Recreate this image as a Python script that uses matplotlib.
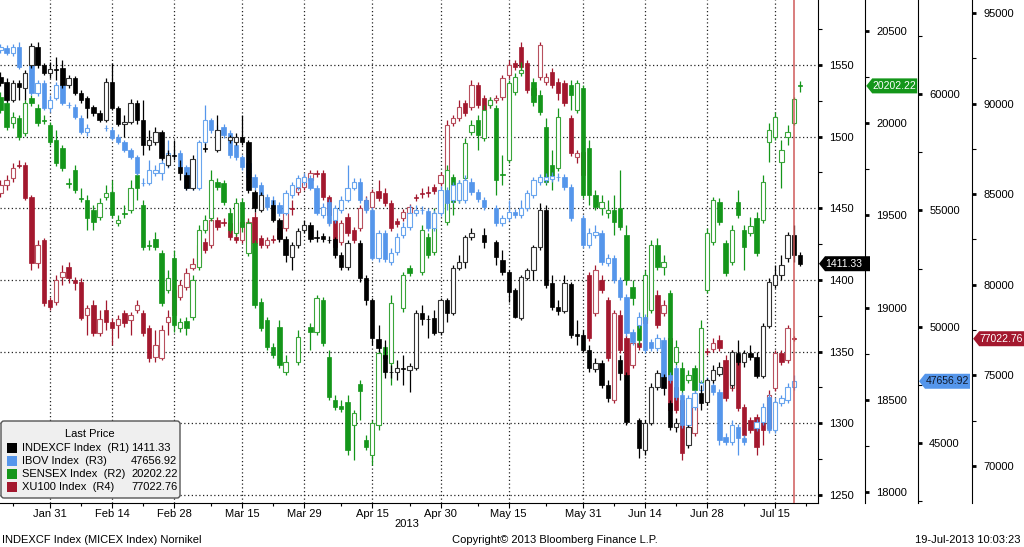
import numpy as np
import pandas as pd
import matplotlib
matplotlib.use("Agg")
import matplotlib.pyplot as plt
from matplotlib.patches import FancyBboxPatch, Rectangle, Polygon
from matplotlib.ticker import MultipleLocator, FuncFormatter
from matplotlib.transforms import IdentityTransform

plt.rcParams['font.family'] = ['Liberation Sans', 'DejaVu Sans']
plt.rcParams['font.size'] = 8

# trading-day axis (every weekday)
days = pd.bdate_range("2013-01-21", "2013-07-24")
major_dates = ["2013-01-31", "2013-02-14", "2013-02-28", "2013-03-15", "2013-03-29", "2013-04-15",
               "2013-04-30", "2013-05-15", "2013-05-31", "2013-06-14", "2013-06-28", "2013-07-15"]
minor_dates = ["2013-01-23", "2013-02-07", "2013-02-21", "2013-03-08", "2013-03-22", "2013-04-08",
               "2013-04-23", "2013-05-08", "2013-05-23", "2013-06-07", "2013-06-21", "2013-07-08",
               "2013-07-22"]
marker_day = "2013-07-18"

# (open, high, low, close) per weekday from 2013-01-21, None = no session
micex = [
    (1541.7, 1545.1, 1535.4, 1537.5), (1538.2, 1541.0, 1524.2, 1525.6), (1525.6, 1539.6, 1524.2, 1537.5),
    (1537.5, 1539.6, 1525.6, 1534.7), (1534.0, 1546.5, 1525.6, 1544.4),
    (1550.0, 1565.4, 1547.9, 1563.3), (1562.6, 1566.1, 1547.9, 1550.0), (1550.0, 1551.4, 1543.1, 1544.4),
    (1544.4, 1552.1, 1541.0, 1547.2), (1547.2, 1555.6, 1539.6, 1546.5),
    (1547.9, 1553.5, 1534.0, 1536.1), (1536.1, 1543.1, 1534.0, 1541.0), (1541.0, 1542.4, 1529.1, 1530.5),
    (1530.5, 1532.6, 1523.5, 1525.6), (1527.0, 1528.4, 1513.0, 1520.0),
    (1520.7, 1522.1, 1514.4, 1516.5), (1516.5, 1518.6, 1510.2, 1511.6), (1511.6, 1541.0, 1510.2, 1538.2),
    (1538.2, 1551.4, 1518.6, 1520.0), (1520.0, 1521.4, 1507.5, 1508.8),
    (1508.8, 1515.1, 1499.8, 1510.2), (1510.2, 1526.3, 1508.8, 1523.5), (1523.5, 1525.6, 1508.8, 1511.6),
    (1511.6, 1525.6, 1487.2, 1494.2), (1494.2, 1504.7, 1490.7, 1497.7),
    (1496.3, 1506.8, 1494.2, 1503.3), (1503.3, 1504.7, 1483.7, 1485.1), (1480.2, 1490.7, 1478.8, 1487.2),
    (1487.2, 1497.7, 1483.7, 1486.5), (1478.8, 1483.7, 1469.8, 1474.6),
    (1473.2, 1475.3, 1462.8, 1464.2), (1464.2, 1487.2, 1462.8, 1484.4), None,
    (1492.1, 1495.6, 1489.3, 1491.4), None,
    (1490.7, 1515.1, 1489.3, 1504.7), None, (1497.7, 1501.2, 1495.6, 1499.8),
    (1496.3, 1502.6, 1494.2, 1499.8), (1499.8, 1515.1, 1494.2, 1496.3),
    (1496.3, 1497.7, 1460.7, 1462.8), (1461.4, 1462.8, 1447.4, 1450.2), (1448.8, 1461.4, 1447.4, 1459.3),
    None, (1452.3, 1455.8, 1440.4, 1441.8),
    (1441.8, 1443.2, 1426.5, 1428.6), (1428.6, 1430.7, 1412.5, 1417.4), (1416.0, 1426.5, 1406.9, 1424.4),
    (1424.4, 1436.3, 1422.3, 1434.2), (1434.9, 1441.8, 1432.8, 1438.4),
    (1438.4, 1440.4, 1426.5, 1428.6), (1430.0, 1434.9, 1426.5, 1429.3), (1430.7, 1432.8, 1426.5, 1428.6),
    (1427.9, 1430.7, 1425.8, 1427.6), (1428.6, 1430.0, 1415.3, 1417.4),
    (1417.4, 1419.5, 1406.9, 1409.0), (1409.0, 1427.9, 1406.9, 1425.8), None,
    (1425.8, 1427.9, 1398.6, 1401.4), (1401.4, 1403.5, 1382.5, 1386.0),
    (1386.0, 1387.4, 1354.6, 1359.5), (1358.8, 1368.6, 1349.7, 1352.5), (1347.6, 1358.1, 1331.6, 1335.7),
    (1335.7, 1340.6, 1331.6, 1335.4), (1335.7, 1344.1, 1330.2, 1338.5),
    (1338.5, 1347.6, 1326.7, 1338.0), (1337.1, 1342.0, 1321.8, 1339.9), (1338.5, 1379.0, 1337.1, 1376.9),
    (1376.9, 1382.5, 1368.6, 1372.7), (1372.7, 1375.5, 1359.5, 1372.4),
    (1373.4, 1379.0, 1361.6, 1363.0), (1363.7, 1387.4, 1361.6, 1386.0), (1386.0, 1387.4, 1370.6, 1376.9),
    (1376.9, 1410.4, 1375.5, 1408.3), (1408.3, 1417.4, 1406.9, 1412.5),
    (1412.5, 1431.4, 1408.3, 1430.0), (1430.0, 1436.3, 1427.9, 1432.8), None,
    (1431.4, 1436.3, 1422.3, 1426.5), None,
    (1426.5, 1427.9, 1410.4, 1416.0), (1413.9, 1420.9, 1403.5, 1405.5), (1405.5, 1406.9, 1384.6, 1391.6),
    (1393.0, 1394.4, 1373.4, 1374.1), (1373.4, 1403.5, 1372.0, 1402.1),
    (1401.4, 1408.3, 1400.0, 1406.9), (1406.9, 1424.4, 1400.0, 1423.0), (1423.0, 1453.7, 1420.9, 1448.8),
    (1448.8, 1452.3, 1394.4, 1396.5), (1397.9, 1403.5, 1379.0, 1381.1),
    (1381.1, 1386.0, 1375.5, 1378.3), (1378.3, 1403.5, 1376.9, 1397.9), (1397.2, 1398.6, 1359.5, 1361.6),
    (1362.3, 1372.0, 1354.6, 1360.9), (1361.6, 1365.1, 1349.7, 1351.1),
    (1351.1, 1354.6, 1335.7, 1338.5), (1337.8, 1345.5, 1335.7, 1342.0), (1342.0, 1344.1, 1324.6, 1326.7),
    (1326.7, 1330.2, 1314.8, 1317.6), None,
    (1344.1, 1347.6, 1330.2, 1335.0), (1333.6, 1335.7, 1298.7, 1300.8), None,
    (1302.2, 1303.6, 1275.7, 1282.7), (1281.3, 1302.2, 1277.8, 1300.1),
    (1300.1, 1328.1, 1298.7, 1325.3), (1325.3, 1337.1, 1323.2, 1335.0), (1332.3, 1334.3, 1319.7, 1324.6),
    (1314.1, 1316.2, 1295.3, 1297.4), (1297.4, 1303.6, 1293.9, 1300.1),
    None, (1284.8, 1298.7, 1282.7, 1297.4), None,
    (1321.1, 1326.7, 1309.2, 1314.1), (1314.8, 1331.6, 1312.7, 1330.2),
    (1330.2, 1340.6, 1328.1, 1337.1), (1334.3, 1342.7, 1332.9, 1339.2), None,
    (1326.7, 1351.1, 1324.6, 1349.7), (1349.0, 1358.1, 1340.6, 1342.7),
    (1342.7, 1351.1, 1339.2, 1349.0), (1349.0, 1354.6, 1344.1, 1346.2), (1346.2, 1349.7, 1331.6, 1332.9),
    (1332.9, 1369.9, 1331.6, 1367.9), (1367.9, 1401.4, 1366.5, 1398.6),
    (1396.5, 1410.4, 1394.4, 1403.5), (1403.5, 1417.4, 1400.0, 1410.4), (1415.3, 1433.5, 1412.5, 1431.4),
    (1431.4, 1438.4, 1412.5, 1417.4), (1417.4, 1419.5, 1409.7, 1411.33),
]

ibov = [
    (61891, 62149, 61763, 62020), (61977, 62106, 61677, 61763), (61763, 62149, 61634, 62020),
    (62020, 62235, 61075, 61161), None,
    (61247, 61376, 59958, 60044), (60044, 60602, 59915, 60473), (60473, 60602, 59313, 59399),
    (59399, 59958, 59227, 59743), (59829, 60516, 59743, 60388),
    (60388, 60516, 59528, 59614), (59528, 59657, 59399, 59510), (59442, 59571, 58927, 59013),
    (58970, 59098, 58282, 58368), (58368, 58712, 58196, 58540),
    None, None, (58540, 58669, 58411, 58520),
    (58454, 58583, 58024, 58110), (58153, 58282, 57852, 57938),
    (57938, 58024, 57509, 57594), (57594, 57680, 57208, 57294), (57294, 57380, 56520, 56606),
    (56176, 56391, 56048, 56155), (56176, 57165, 56091, 56735),
    (56606, 56950, 56477, 56735), (56606, 57251, 56305, 57036), (56950, 58024, 56821, 57466),
    (57380, 57594, 57251, 57359), (57466, 57594, 56735, 56864),
    (56864, 56950, 55876, 55962), (56520, 56649, 55876, 55962), (55962, 58024, 55876, 57938),
    (57938, 59528, 57809, 58884), (58884, 58970, 58325, 58454),
    (58454, 58669, 58110, 58239), (58583, 58712, 58110, 58239), (58325, 58454, 57251, 57380),
    (57809, 57938, 57165, 57294), (57294, 57380, 56735, 56864),
    (57036, 57165, 56305, 56434), (56434, 56563, 55876, 56005), (56091, 56219, 55446, 55575),
    (55575, 55704, 55016, 55145), (55446, 55618, 54930, 55102),
    (55231, 55360, 54758, 54887), (54887, 55876, 54801, 55747), (55661, 56219, 55532, 56091),
    (56005, 56520, 55876, 56391), (56219, 56606, 56091, 56434),
    (56391, 56520, 55876, 55962), (55962, 56091, 54801, 54887), (54801, 55317, 54673, 55145),
    (55360, 55489, 54329, 54458), (54587, 55231, 54458, 55102),
    (55016, 55618, 54887, 55446), (55446, 56950, 55360, 55962), (55962, 56391, 55876, 56219),
    (56219, 56391, 55317, 55446), (55446, 55575, 54887, 55016),
    (55016, 55145, 52868, 52954), (52954, 54157, 52782, 54028), (54028, 54157, 52782, 52911),
    (52782, 53383, 52653, 53169), (53212, 54028, 53083, 53856),
    (53942, 54501, 53813, 54286), (54286, 55231, 54157, 54887), (54887, 55231, 54758, 55016),
    (55016, 55188, 54844, 54995), (54973, 55102, 54114, 54243),
    (54243, 55016, 54114, 54887), (54887, 56048, 54758, 55876), (55876, 56005, 55016, 55317),
    (55446, 56219, 55317, 56091), (55446, 56305, 55317, 56176),
    (55446, 56520, 55317, 56305), (56219, 56391, 55661, 55790), (55790, 55919, 55360, 55489),
    (55446, 55575, 55016, 55145), None,
    (55102, 55231, 54329, 54458), (54458, 54801, 54329, 54673), (54673, 55446, 54544, 54930),
    (54930, 55059, 54673, 54801), (54801, 55446, 54673, 55102),
    (55102, 55876, 54973, 55747), (55661, 56434, 55532, 56305), (56219, 56563, 56091, 56434),
    (56305, 56606, 56176, 56434), (56348, 56649, 56219, 56477),
    (56434, 56606, 56262, 56413), (56434, 56563, 55876, 56005), (56005, 56134, 54544, 54673),
    None, (54673, 54801, 53383, 53512),
    (53512, 54243, 53383, 54028), (53942, 54372, 53813, 54071), (54028, 54157, 52653, 52782),
    (52739, 53126, 52610, 52954), (52954, 53083, 51879, 52008),
    (52008, 52137, 51149, 51278), (51278, 51407, 49602, 49731), (49774, 49903, 49215, 49344),
    (50075, 50633, 49946, 50419), (50419, 50547, 48872, 49000),
    (49344, 49473, 48958, 49086), (49086, 49688, 48958, 49516), (49430, 49559, 47711, 47840),
    (47926, 48055, 47582, 47711), (48227, 48356, 46852, 46981),
    (47067, 47196, 45649, 45778), (45778, 47067, 45649, 46938), (46551, 47282, 46422, 47153),
    (47282, 47711, 47153, 47582), (47067, 47840, 46938, 47711),
    (47497, 47625, 47067, 47196), (47196, 47325, 44918, 45133), (45262, 45434, 44918, 45047),
    (45047, 45993, 44918, 45778), (45692, 45821, 44489, 45219),
    (45219, 45348, 44918, 45047), None, (45649, 46036, 45520, 45907),
    (45907, 46723, 45778, 46551), (46981, 47110, 45434, 45563),
    (45563, 46938, 45434, 46766), (46723, 47067, 46594, 46938), (46852, 47582, 46723, 47411),
    (47411, 47926, 47282, 47656.92), None,
]

sensex = [
    (20142, 20169, 20055, 20071), (20109, 20126, 19963, 19979), (20001, 20061, 19974, 20033),
    (20028, 20044, 19909, 19925), (19947, 20126, 19930, 20109),
    (20137, 20153, 20093, 20109), (20082, 20104, 19985, 20001), (20017, 20044, 19996, 20012),
    (19990, 20006, 19882, 19898), (19909, 19963, 19768, 19784),
    (19865, 19882, 19741, 19757), (19676, 19703, 19649, 19670), (19746, 19773, 19621, 19638),
    (19594, 19649, 19573, 19589), (19583, 19611, 19421, 19486),
    (19529, 19556, 19421, 19464), (19491, 19594, 19475, 19567), (19600, 19665, 19583, 19621),
    (19627, 19692, 19486, 19502), (19459, 19502, 19442, 19475),
    (19513, 19556, 19486, 19507), (19529, 19692, 19513, 19649), (19719, 19746, 19583, 19649),
    (19556, 19583, 19312, 19329), (19339, 19366, 19312, 19334),
    (19372, 19410, 19312, 19329), (19296, 19312, 19009, 19025), (19095, 19204, 19079, 19160),
    (19269, 19312, 18868, 18906), (18889, 18944, 18868, 18922),
    (18927, 18949, 18851, 18889), (18949, 19177, 18933, 19150), (19220, 19448, 19204, 19421),
    (19421, 19502, 19404, 19475), (19486, 19746, 19470, 19692),
    (19681, 19703, 19638, 19654), (19676, 19692, 19556, 19573), (19513, 19540, 19404, 19421),
    (19404, 19594, 19388, 19567), (19573, 19594, 19410, 19437),
    (19296, 19475, 19280, 19459), (19350, 19366, 18998, 19014), (19030, 19052, 18873, 18889),
    (18933, 18949, 18770, 18786), (18786, 18808, 18727, 18743),
    (18895, 18933, 18672, 18689), (18651, 18743, 18634, 18705), None,
    (18705, 18878, 18689, 18840), None,
    (18895, 18916, 18770, 18868), (18868, 19068, 18851, 19052), (19041, 19057, 18792, 18808),
    (18732, 18770, 18499, 18515), (18499, 18526, 18445, 18461),
    (18466, 18499, 18434, 18450), (18488, 18526, 18201, 18228), (18363, 18445, 18173, 18428),
    (18586, 18607, 18390, 18548), (18282, 18309, 18228, 18244),
    (18201, 18390, 18146, 18374), (18363, 18770, 18336, 18754), (18786, 18797, 18634, 18727),
    (18699, 19068, 18580, 19025), None,
    (18998, 19193, 18976, 19177), (19215, 19231, 19171, 19188), None,
    (19193, 19448, 19177, 19421), (19383, 19404, 19269, 19285),
    (19301, 19540, 19285, 19513), None, (19464, 19773, 19448, 19746),
    (19708, 19724, 19502, 19573), (19583, 19692, 19567, 19676),
    (19703, 19920, 19686, 19893), (19952, 20017, 19936, 19990), (20017, 20044, 19855, 19936),
    (19920, 20099, 19903, 20071), (20099, 20142, 20082, 20126),
    (20082, 20099, 19611, 19692), (19724, 19827, 19665, 19719), (19800, 20234, 19784, 20218),
    (20169, 20272, 20153, 20250), (20272, 20332, 20256, 20288),
    None, (20223, 20245, 20093, 20115), (20153, 20180, 20044, 20061),
    (19979, 20028, 19665, 19681), (19773, 19855, 19638, 19703),
    (19757, 20082, 19741, 20033), None, (20207, 20234, 20071, 20153),
    (20071, 20234, 20055, 20218), (20191, 20207, 19594, 19611),
    (19865, 19909, 19556, 19611), (19611, 19638, 19529, 19545), (19540, 19611, 19502, 19573),
    (19513, 19583, 19486, 19529), (19529, 19611, 19394, 19464),
    (19540, 19746, 19421, 19437), (19394, 19448, 19122, 19150), (19112, 19150, 19014, 19052),
    (18906, 18944, 18797, 18824), (18933, 19204, 18916, 19177),
    (18987, 19366, 18971, 19339), (19339, 19377, 19204, 19220), (19220, 19285, 19177, 19247),
    (19079, 19095, 18618, 18634), (18705, 18824, 18689, 18786),
    (18672, 18705, 18526, 18553), (18607, 18662, 18591, 18634), (18672, 18689, 18542, 18553),
    (18596, 18933, 18580, 18889), (19095, 19432, 19079, 19404),
    (19356, 19600, 19339, 19583), (19573, 19594, 19448, 19464), (19350, 19366, 19171, 19188),
    (19247, 19448, 19231, 19421), (19573, 19638, 19486, 19502),
    (19421, 19448, 19204, 19329), (19404, 19491, 19388, 19442), (19486, 19518, 19280, 19296),
    (19475, 19719, 19459, 19681), (19898, 20001, 19789, 19963),
    (19925, 20061, 19909, 20033), (19789, 19909, 19649, 19855), (19925, 19990, 19882, 19952),
    (20001, 20142, 19990, 20131), (20207, 20229, 20169, 20202.22),
]

xu100 = [
    (85065, 85783, 84845, 85507), (85507, 86059, 85231, 85783), (85893, 86721, 85672, 86445),
    (86611, 86887, 86445, 86556), (86611, 86776, 84679, 84789),
    (84845, 84955, 80816, 81202), (81202, 82471, 80926, 82195), (82471, 82582, 78829, 78994),
    (79160, 79326, 78608, 78774), (79050, 80540, 78884, 80264),
    (80430, 81092, 79988, 80705), (80981, 81257, 80098, 80374), (80264, 80430, 79712, 80098),
    (80153, 80374, 78056, 78167), (78332, 78884, 77228, 78719),
    (78884, 79160, 77173, 77339), (77339, 78608, 77173, 78111), (78608, 79160, 77504, 77946),
    (77946, 78167, 76676, 77615), (77780, 78332, 77063, 78111),
    (78442, 78608, 77670, 77890), (78056, 78497, 77228, 78332), (78608, 79160, 78442, 78884),
    (78442, 78608, 77173, 77339), (77615, 77780, 75738, 75959),
    (76014, 77504, 75738, 76676), (75959, 77780, 75849, 77504), (77946, 78608, 77228, 78222),
    (78332, 79877, 78167, 79712), (79326, 80264, 79160, 79988),
    (79877, 80926, 79712, 80650), (80926, 81478, 80816, 81147), (81202, 82361, 81037, 82195),
    (82361, 82582, 81754, 81920), (82195, 83796, 82030, 83575),
    (83575, 83741, 83023, 83189), (83465, 83686, 83244, 83410), (83410, 83575, 82471, 82637),
    (82637, 82803, 82306, 82471), (82471, 83686, 82306, 83465),
    (82361, 83686, 82195, 83465), (83741, 84017, 82140, 82306), (82582, 82747, 82030, 82195),
    (82195, 82637, 82030, 82471), (82527, 82747, 82306, 82471),
    (83134, 83299, 82416, 82582), (83134, 84679, 82968, 84017), (84238, 84679, 83851, 84182),
    (85120, 85507, 84955, 85341), (85396, 86114, 85231, 85893),
    (85783, 86335, 85617, 86169), (86169, 86335, 85948, 86114), (86169, 86335, 84679, 84845),
    (84845, 84955, 83299, 83851), (83575, 83741, 81920, 82085),
    (82361, 83575, 82195, 83410), (83741, 83962, 82692, 82858), (83023, 83189, 82306, 82471),
    (83134, 84403, 82968, 84238), (84238, 84900, 84072, 84679),
    (84293, 85286, 84127, 85120), (85176, 85783, 84624, 84789), (85065, 85341, 84348, 84513),
    (84513, 84679, 82968, 83134), (83520, 83686, 83189, 83355),
    (83686, 84182, 83520, 84017), (83962, 84458, 83796, 84293), (84845, 85010, 84624, 84789),
    (85065, 85341, 84789, 85010), (85120, 85452, 84845, 85065),
    (85396, 85562, 85010, 85176), (85617, 86224, 85452, 86059), (86224, 89094, 86059, 88818),
    (88929, 89370, 88763, 89205), (89205, 90198, 89039, 89812),
    (90032, 90198, 89315, 89481), (89812, 91302, 89646, 91026), (91026, 91191, 89757, 89922),
    (90308, 90474, 89481, 89646), (89922, 90364, 89757, 90198),
    (90198, 90474, 90032, 90308), (90364, 91578, 90198, 91412), (91578, 92406, 91412, 92130),
    (92240, 92406, 91854, 92019), (93123, 93399, 91854, 92019),
    (92240, 92406, 90584, 90750), (90860, 91026, 90308, 90474), (91467, 93399, 91302, 93233),
    (91191, 91688, 91026, 91467), (91743, 91964, 90860, 91026),
    (91191, 91412, 90198, 90584), (91136, 91302, 89867, 90032), (89205, 89370, 87107, 87273),
    (87052, 87439, 86721, 87273), (87328, 87549, 85893, 86059),
    (80540, 80705, 76897, 77063), (78442, 81092, 78277, 80816), (80264, 80540, 79546, 79712),
    (79160, 79326, 75793, 75959), (73641, 78608, 73475, 78442),
    (78332, 78608, 76235, 76401), (77063, 77228, 74745, 75021), (75573, 76952, 75407, 76787),
    (76787, 76952, 76401, 76566), (77890, 78442, 77725, 78222),
    (78719, 79436, 78553, 79160), (79436, 79712, 77615, 77780), (78442, 79160, 78277, 78884),
    (77063, 77228, 72923, 73089), (74359, 74579, 72923, 73089),
    (73641, 73807, 70329, 70716), (72150, 72371, 71102, 71268), (71819, 74083, 71654, 73917),
    (74634, 76511, 74469, 76290), (76345, 76511, 76124, 76290),
    (76456, 77063, 76290, 76787), (76952, 77228, 76345, 76511), (75849, 76124, 73586, 73751),
    (74303, 76401, 74138, 76235), (76124, 76290, 73034, 73199),
    (73254, 73420, 71544, 71709), (72537, 72702, 71819, 71985), (72702, 72868, 70605, 71047),
    (72813, 72979, 71158, 71985), (72095, 74193, 71930, 73917),
    (74303, 76401, 74138, 76235), (76235, 76401, 75573, 75738), (75849, 77780, 75683, 77615),
    (77035, 77173, 76897, 77022.76), None,
]

BLACK, BLUE, GREEN, RED = "#000000", "#5596eb", "#14961a", "#a3182e"
W, H = 1024, 547


def draw_candles(ax, rows, color, hollow_edge):
    idx = np.array([i for i, r in enumerate(rows) if r is not None])
    o, h, l, c = (np.array([rows[i][k] for i in idx], dtype=float) for k in range(4))
    ax.vlines(idx, l, h, color=color, lw=0.9, zorder=2)
    up = c >= o
    ax.bar(idx[up], c[up] - o[up], bottom=o[up], width=0.7, facecolor="white",
           edgecolor=hollow_edge, lw=0.8, zorder=3)
    ax.bar(idx[~up], o[~up] - c[~up], bottom=c[~up], width=0.7, facecolor=color,
           edgecolor=color, lw=0.5, zorder=3)


def side_axis(offset_pt, major, minor):
    ax = base.twinx()
    ax.spines["right"].set_position(("outward", offset_pt))
    for s in ("top", "left", "bottom"):
        ax.spines[s].set_visible(False)
    ax.yaxis.set_major_locator(MultipleLocator(major))
    ax.yaxis.set_minor_locator(MultipleLocator(minor))
    ax.yaxis.set_major_formatter(FuncFormatter(lambda v, p: f"{v:.0f}"))
    ax.tick_params(axis="y", which="major", direction="out", length=3, width=2, pad=5, labelsize=8)
    ax.tick_params(axis="y", which="minor", direction="out", length=3, width=0.8)
    return ax


fig = plt.figure(figsize=(W / 100, H / 100), dpi=100)
base = fig.add_axes([0, 44 / H, 818 / W, 503 / H])

ax4 = side_axis(111, 5000, 2500)   # XU100 (R4)
ax2 = side_axis(34, 500, 250)      # SENSEX (R2)
ax3 = side_axis(72, 5000, 2500)    # IBOV (R3)
ax1 = base.twinx()                 # INDEXCF candles (R1 scale)
ax1.axis("off")

draw_candles(ax4, xu100, RED, "#b8505e")
draw_candles(ax2, sensex, GREEN, "#3aa53a")
draw_candles(ax3, ibov, BLUE, "#6aa6ee")
draw_candles(ax1, micex, BLACK, "#333333")

r1_lim = (1244.3, 1595.4)
base.set_ylim(*r1_lim)
ax1.set_ylim(*r1_lim)
ax2.set_ylim(17940, 20668)
ax3.set_ylim(42426, 64040)
ax4.set_ylim(67956, 95717)
base.set_xlim(-0.065, 131.9)

pos = {d: i for i, d in enumerate(days)}
major_x = [pos[pd.Timestamp(d)] for d in major_dates]
minor_x = [pos[pd.Timestamp(d)] for d in minor_dates]
base.set_xticks(major_x)
base.set_xticklabels([f"{pd.Timestamp(d):%b} {pd.Timestamp(d).day}" for d in major_dates])
base.set_xticks(minor_x, minor=True)
base.tick_params(axis="x", which="major", direction="out", length=3.5, width=0.8, pad=0.8, labelsize=8)
base.tick_params(axis="x", which="minor", direction="out", length=2.5, width=0.8)
base.text((major_x[5] + major_x[6]) / 2, -0.042, "2013", transform=base.get_xaxis_transform(),
          ha="center", va="center", fontsize=8)

base.yaxis.tick_right()
base.set_yticks(np.arange(1250, 1551, 50))
base.yaxis.set_minor_locator(MultipleLocator(25))
base.yaxis.set_major_formatter(FuncFormatter(lambda v, p: f"{v:.0f}"))
base.tick_params(axis="y", which="major", direction="out", length=3, width=2, pad=5, labelsize=8)
base.tick_params(axis="y", which="minor", direction="out", length=3, width=0.8)
base.grid(True, which="major", linestyle=(0, (1, 2)), color="#222222", lw=0.9)
for s in ("top", "left"):
    base.spines[s].set_visible(False)

ax1.axvline(pos[pd.Timestamp(marker_day)], color="#d05a5a", lw=1.1, zorder=6)


# last-price tags on each scale
def tag(ax, value, label, fc, tc, offset_px):
    xs, ys = ax.get_yaxis_transform().transform((1, value))
    x0 = xs + offset_px + 1
    verts = [(x0, ys), (x0 + 6, ys + 7.5), (x0 + 51, ys + 7.5), (x0 + 51, ys - 7.5), (x0 + 6, ys - 7.5)]
    fig.add_artist(Polygon(verts, closed=True, fc=fc, ec="none", transform=IdentityTransform(), zorder=4))
    fig.text(x0 + 6.5, ys, label, color=tc, fontsize=7.5, ha="left", va="center",
             transform=IdentityTransform(), zorder=5)


last = [micex[-1][3], sensex[-1][3], ibov[-2][3], xu100[-2][3]]
tag(base, last[0], f"{last[0]:.2f}", BLACK, "white", 0)
tag(ax2, last[1], f"{last[1]:.2f}", GREEN, "white", 34 * 100 / 72)
tag(ax3, last[2], f"{last[2]:.2f}", BLUE, "#101828", 72 * 100 / 72)
tag(ax4, last[3], f"{last[3]:.2f}", RED, "white", 111 * 100 / 72)

# legend box
fig.add_artist(FancyBboxPatch((1, H - 498), 179, 77, boxstyle="round,pad=0,rounding_size=3",
                              fc="#efefef", ec="#555555", lw=1, transform=IdentityTransform(), zorder=4))
fig.text(90, H - 434, "Last Price", ha="center", va="center", transform=IdentityTransform(), zorder=5)
legend_rows = [("INDEXCF Index  (R1)", BLACK, last[0]), ("IBOV Index  (R3)", BLUE, last[2]),
               ("SENSEX Index  (R2)", GREEN, last[1]), ("XU100 Index  (R4)", RED, last[3])]
for k, (name, col, val) in enumerate(legend_rows):
    yc = H - (448 + 13 * k)
    fig.add_artist(Rectangle((7, yc - 5), 10, 10, fc=col, ec="none", transform=IdentityTransform(), zorder=5))
    fig.text(22, yc, name, ha="left", va="center", transform=IdentityTransform(), zorder=5)
    fig.text(131, yc, f"{val:.2f}", ha="left", va="center", transform=IdentityTransform(), zorder=5)

fig.text(0.002, 0.013, "INDEXCF Index (MICEX Index) Nornikel", ha="left", va="center", fontsize=8)
fig.text(0.542, 0.013, "Copyright\u00a9 2013 Bloomberg Finance L.P.", ha="center", va="center", fontsize=8)
fig.text(0.997, 0.013, "19-Jul-2013 10:03:23", ha="right", va="center", fontsize=8)

fig.savefig("out.png", dpi=100, facecolor="white")
